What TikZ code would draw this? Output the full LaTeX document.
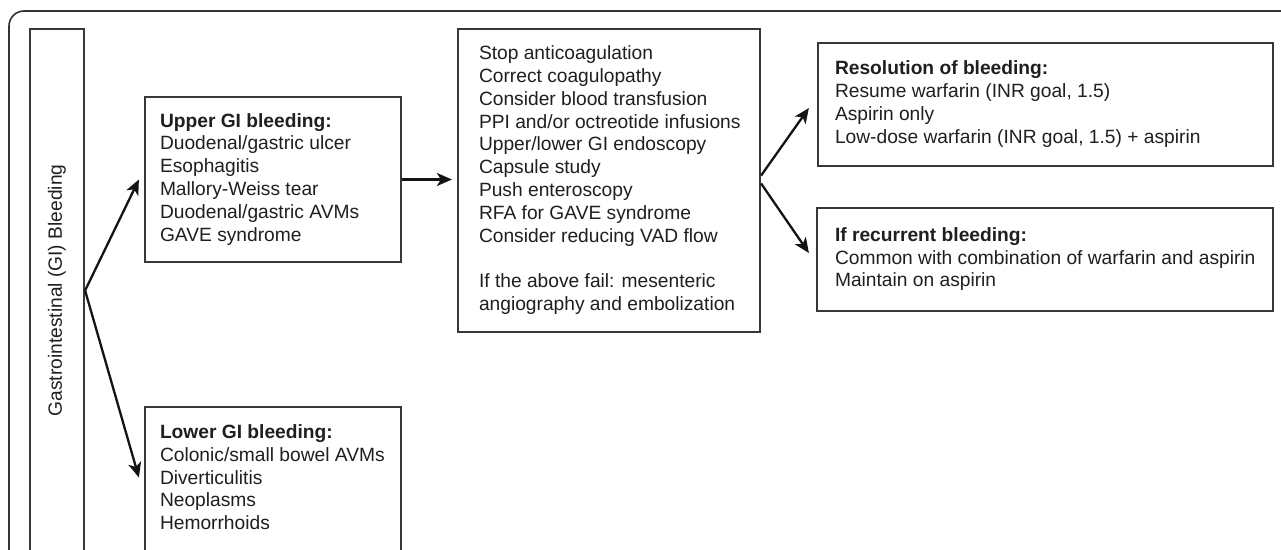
\documentclass[tikz,border=0pt]{standalone}
\usepackage{fontspec}
\setmainfont{Liberation Sans}
\usetikzlibrary{arrows.meta,calc}
\newcommand{\boxlines}[2]{\makebox[#1][l]{\begin{tabular}{@{}l@{}}#2\end{tabular}}}
\begin{document}
\begin{tikzpicture}[x=1pt,y=-1pt,
  box/.style={draw=black!78, line width=2.2pt, inner ysep=0pt,
    font=\fontsize{19.2}{22.8}\selectfont, text=black!88},
  arr/.style={line width=2.3pt, draw=black!92, -{Stealth[length=15pt,width=13pt,inset=4pt]}},
  frame/.style={draw=black!80, line width=1.6pt, rounded corners=15pt}]
\clip (0,0) rectangle (1281,549);
\fill[white] (0,0) rectangle (1281,549);
\draw[frame] (9,11) rectangle (1330,620);
% tall left box
\node[box, rotate=90, minimum width=523pt, minimum height=54pt, inner xsep=0pt, align=center] (gi) at (57,290.5) {Gastrointestinal (GI) Bleeding};
% upper and lower GI boxes
\node[box, inner xsep=15pt, minimum width=256pt, minimum height=165pt] (upper) at (273,179.5)
  {\boxlines{226pt}{\textbf{Upper GI bleeding:}\\ Duodenal/gastric ulcer\\ Esophagitis\\ Mallory-Weiss tear\\ Duodenal/gastric AVMs\\ GAVE syndrome}};
\node[box, inner xsep=15pt, minimum width=256pt, minimum height=145pt] (lower) at (273,479.5)
  {\boxlines{226pt}{\textbf{Lower GI bleeding:}\\ Colonic/small bowel AVMs\\ Diverticulitis\\ Neoplasms\\ Hemorrhoids}};
% middle management box
\node[box, inner xsep=21pt, minimum width=302pt, minimum height=303pt] (mid) at (609,180.5)
  {\boxlines{260pt}{Stop anticoagulation\\ Correct coagulopathy\\ Consider blood transfusion\\ PPI and/or octreotide infusions\\ Upper/lower GI endoscopy\\ Capsule study\\ Push enteroscopy\\ RFA for GAVE syndrome\\ Consider reducing VAD flow\\[22.8pt] If the above fail: mesenteric\\ angiography and embolization}};
% right boxes
\node[box, inner xsep=17pt, minimum width=455pt, minimum height=123pt] (res) at (1045.5,104.5)
  {\boxlines{421pt}{\textbf{Resolution of bleeding:}\\ Resume warfarin (INR goal, 1.5)\\ Aspirin only\\ Low-dose warfarin (INR goal, 1.5) + aspirin}};
\node[box, inner xsep=18pt, minimum width=456pt, minimum height=103pt] (rec) at (1045,259.5)
  {\boxlines{420pt}{\textbf{If recurrent bleeding:}\\ Common with combination of warfarin and aspirin\\ Maintain on aspirin}};
% connectors
\draw[arr] (gi.south) -- ([xshift=-5pt]upper.west);
\draw[arr] (gi.south) -- ([xshift=-5pt,yshift=2pt]lower.west);
\draw[arr] (upper.east) -- ([xshift=-5pt]upper.east -| mid.west);
\draw[arr] ([yshift=5pt]mid.east) -- ([xshift=-8pt,yshift=-3.5pt]res.west);
\draw[arr] ([yshift=-3pt]mid.east) -- ([xshift=-7pt,yshift=6.5pt]rec.west);
\end{tikzpicture}
\end{document}
